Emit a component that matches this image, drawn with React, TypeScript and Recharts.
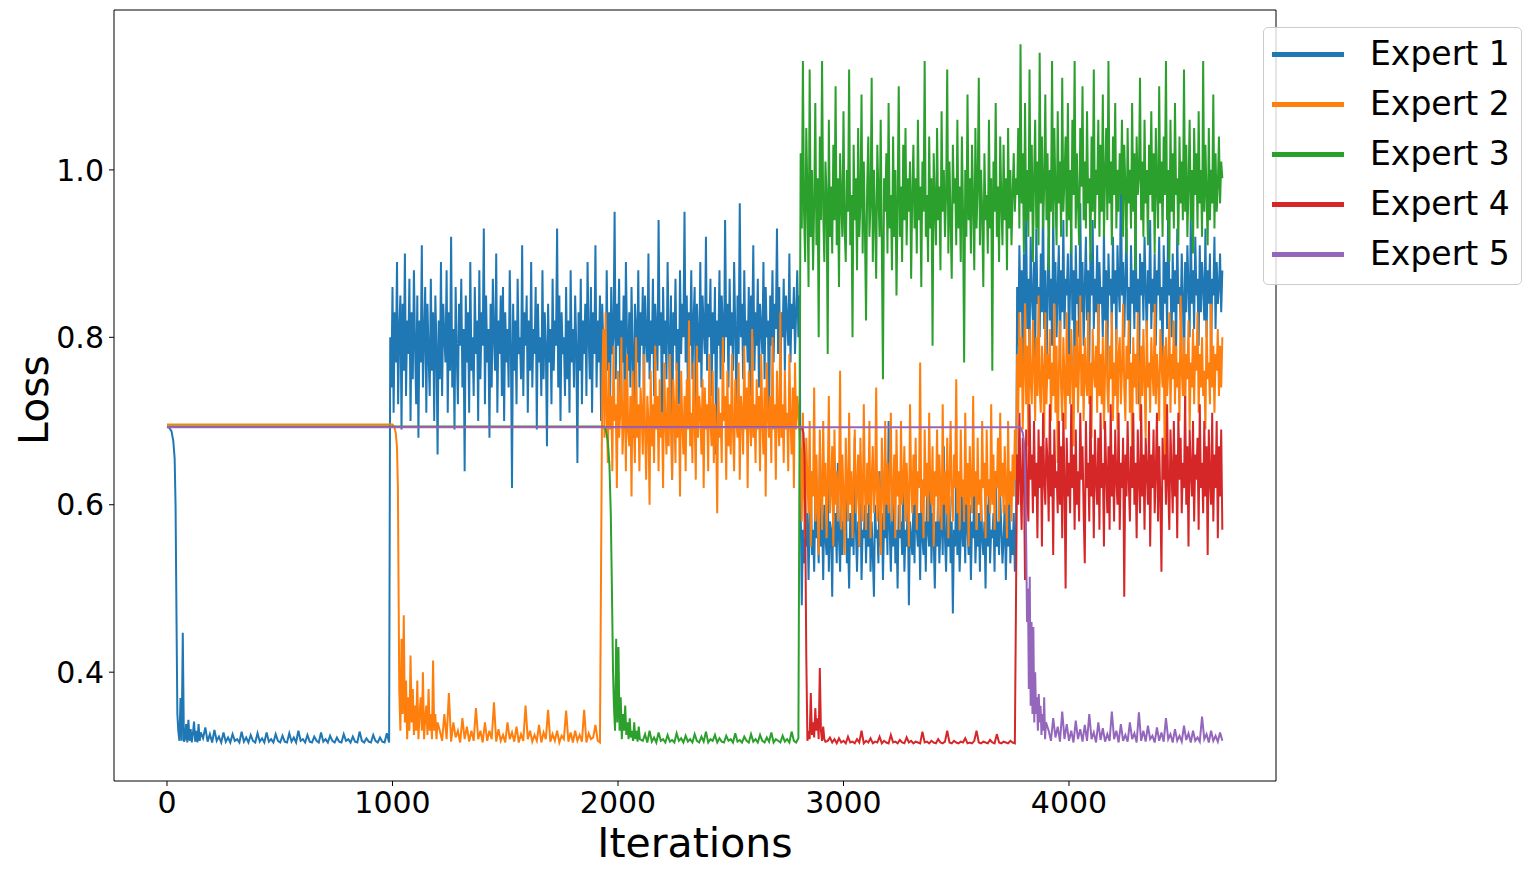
import React from 'react';
import { LineChart, Line, XAxis, YAxis, Legend, ReferenceArea, Label } from 'recharts';

const seriesNames = ['Expert 1', 'Expert 2', 'Expert 3', 'Expert 4', 'Expert 5'];
const seriesColors = ['#1f77b4', '#ff7f0e', '#2ca02c', '#d62728', '#9467bd'];
const xTicks = [0, 1000, 2000, 3000, 4000];
const yTicks = [0.4, 0.6, 0.8, 1.0];
const xDomain = [-235, 4918];
const yDomain = [0.27, 1.191];

// ---------- Expert 1 ----------
const e1Head: [number, number][] = [[0, 0.693], [10, 0.692], [20, 0.688], [28, 0.676], [34, 0.655], [38, 0.6], [42, 0.47], [46, 0.35]];
const e1Early = [0.33, 0.318, 0.369, 0.318, 0.447, 0.317, 0.32, 0.338, 0.316, 0.343, 0.318, 0.332, 0.316, 0.327, 0.341, 0.317, 0.33, 0.316, 0.338, 0.318, 0.328];
const e1Low = [
  0.321, 0.334, 0.317, 0.326, 0.316, 0.331, 0.318, 0.323, 0.316, 0.328, 0.317, 0.322, 0.316, 0.326, 0.318, 0.32, 0.316, 0.329, 0.317, 0.322,
  0.316, 0.325, 0.318, 0.316, 0.327, 0.317, 0.321, 0.316, 0.328, 0.317, 0.32, 0.316, 0.326, 0.318, 0.316, 0.324, 0.317, 0.316, 0.327, 0.317,
  0.322, 0.316, 0.33, 0.318, 0.32, 0.316, 0.325, 0.317, 0.316, 0.323, 0.318, 0.316, 0.328, 0.317, 0.32, 0.316, 0.324, 0.318, 0.316, 0.322,
  0.317, 0.316, 0.326, 0.318, 0.32, 0.316, 0.323, 0.317, 0.316, 0.329, 0.318, 0.316, 0.321, 0.317, 0.316, 0.325, 0.318, 0.316, 0.322, 0.317,
  0.316, 0.327, 0.316,
];
const e1HighA = [
  0.80, 0.74, 0.86, 0.71, 0.83, 0.77, 0.89, 0.72, 0.81, 0.85, 0.69, 0.84, 0.76, 0.90, 0.73, 0.82, 0.78, 0.87, 0.70, 0.83,
  0.75, 0.88, 0.79, 0.72, 0.85, 0.68, 0.82, 0.77, 0.91, 0.74, 0.80, 0.86, 0.71, 0.84, 0.78, 0.73, 0.87, 0.76, 0.83, 0.70,
  0.85, 0.79, 0.66, 0.82, 0.75, 0.89, 0.73, 0.84, 0.80, 0.77, 0.88, 0.71, 0.83, 0.76, 0.92, 0.74, 0.81, 0.69, 0.86, 0.78,
  0.72, 0.84, 0.79, 0.87, 0.74, 0.81, 0.64, 0.85, 0.77, 0.83, 0.71, 0.89, 0.76, 0.80, 0.73, 0.86, 0.78, 0.82, 0.70, 0.88,
  0.75, 0.83, 0.79, 0.93, 0.72, 0.85, 0.77, 0.81, 0.68, 0.84, 0.74, 0.87, 0.80, 0.76, 0.90, 0.71, 0.82, 0.78, 0.85, 0.73,
  0.86, 0.70, 0.83, 0.77, 0.81, 0.74, 0.88, 0.79, 0.62, 0.84, 0.76, 0.82, 0.72, 0.87, 0.78, 0.80, 0.75, 0.91, 0.73, 0.83,
  0.79, 0.85, 0.71, 0.82, 0.76, 0.89, 0.74, 0.81, 0.78, 0.86, 0.69, 0.84, 0.77, 0.80, 0.73, 0.88, 0.75, 0.83, 0.79, 0.67,
  0.84, 0.77, 0.81, 0.72, 0.87, 0.76, 0.82, 0.79, 0.93, 0.74, 0.85, 0.70, 0.83, 0.78, 0.80, 0.73, 0.86, 0.75, 0.82, 0.71,
  0.88, 0.77, 0.81, 0.74, 0.85, 0.79, 0.65, 0.83, 0.76, 0.87, 0.72, 0.82, 0.78, 0.84, 0.73, 0.89, 0.80, 0.75, 0.86, 0.71,
  0.83, 0.78, 0.91, 0.74, 0.82, 0.77, 0.85, 0.70, 0.84, 0.79, 0.81, 0.73, 0.88, 0.76, 0.83, 0.72, 0.86, 0.78, 0.80, 0.95,
  0.75, 0.84, 0.79, 0.87, 0.73, 0.82, 0.77, 0.85, 0.71, 0.89, 0.80, 0.76, 0.83, 0.74, 0.86, 0.78, 0.68, 0.84, 0.81, 0.77,
  0.88, 0.74, 0.83, 0.79, 0.86, 0.72, 0.85, 0.80, 0.77, 0.90, 0.75, 0.82, 0.78, 0.87, 0.73, 0.84, 0.81, 0.76, 0.94, 0.79,
  0.83, 0.71, 0.86, 0.78, 0.82, 0.75, 0.89, 0.80, 0.74, 0.85, 0.63, 0.83, 0.79, 0.87, 0.76, 0.81, 0.72, 0.88, 0.78, 0.84,
  0.80, 0.95, 0.77, 0.85, 0.73, 0.83, 0.79, 0.88, 0.75, 0.82, 0.86, 0.71, 0.84, 0.80, 0.77, 0.89, 0.74, 0.85, 0.81, 0.78,
  0.92, 0.76, 0.84, 0.80, 0.87, 0.73, 0.83, 0.78, 0.86, 0.66, 0.82, 0.79, 0.88, 0.75, 0.85, 0.81, 0.77, 0.94, 0.80, 0.84,
  0.74, 0.87, 0.79, 0.83, 0.76, 0.89, 0.81, 0.72, 0.85, 0.78, 0.96, 0.80, 0.84, 0.75, 0.88, 0.79, 0.82, 0.77, 0.86, 0.73,
  0.85, 0.80, 0.91, 0.76, 0.83, 0.79, 0.87, 0.74, 0.84, 0.81, 0.78, 0.89, 0.75, 0.86, 0.80, 0.82, 0.69, 0.85, 0.79, 0.88,
  0.77, 0.84, 0.81, 0.93, 0.78, 0.86, 0.74, 0.83, 0.80, 0.87, 0.76, 0.85, 0.82, 0.79, 0.90, 0.77, 0.84, 0.81, 0.86, 0.78,
  0.83, 0.88, 0.80, 0.85,
];
const e1HighB = [
  0.60, 0.48, 0.57, 0.53, 0.62, 0.55, 0.59, 0.51, 0.58, 0.64, 0.54, 0.57, 0.52, 0.61, 0.56, 0.58, 0.53, 0.66, 0.55, 0.59,
  0.51, 0.60, 0.56, 0.54, 0.63, 0.52, 0.58, 0.57, 0.49, 0.61, 0.55, 0.59, 0.53, 0.65, 0.56, 0.52, 0.60, 0.54, 0.58, 0.57,
  0.62, 0.53, 0.56, 0.50, 0.59, 0.55, 0.61, 0.54, 0.68, 0.57, 0.52, 0.58, 0.55, 0.62, 0.51, 0.57, 0.56, 0.60, 0.53, 0.59,
  0.55, 0.63, 0.52, 0.58, 0.54, 0.49, 0.60, 0.56, 0.57, 0.53, 0.64, 0.55, 0.59, 0.51, 0.58, 0.56, 0.61, 0.54, 0.70, 0.57,
  0.52, 0.59, 0.55, 0.62, 0.53, 0.57, 0.50, 0.60, 0.56, 0.58, 0.54, 0.63, 0.52, 0.57, 0.55, 0.61, 0.48, 0.58, 0.56, 0.54,
  0.60, 0.53, 0.66, 0.57, 0.55, 0.59, 0.51, 0.62, 0.56, 0.54, 0.58, 0.52, 0.61, 0.57, 0.55, 0.64, 0.53, 0.59, 0.56, 0.50,
  0.58, 0.55, 0.62, 0.53, 0.57, 0.60, 0.54, 0.67, 0.56, 0.52, 0.59, 0.55, 0.61, 0.53, 0.58, 0.47, 0.57, 0.55, 0.63, 0.54,
  0.59, 0.52, 0.56, 0.61, 0.55, 0.58, 0.53, 0.65, 0.57, 0.54, 0.60, 0.51, 0.58, 0.56, 0.62, 0.53, 0.57, 0.55, 0.59, 0.52,
  0.61, 0.56, 0.54, 0.58, 0.50, 0.60, 0.55, 0.63, 0.53, 0.57, 0.56, 0.59, 0.52, 0.64, 0.55, 0.58, 0.54, 0.61, 0.57, 0.53,
  0.56, 0.60, 0.51, 0.58, 0.55, 0.62, 0.53, 0.57, 0.54, 0.59, 0.52, 0.56,
];
const e1HighC = [
  0.86, 0.79, 0.91, 0.83, 0.88, 0.76, 0.90, 0.84, 0.94, 0.81, 0.87, 0.78, 0.92, 0.85, 0.82, 0.89, 0.77, 0.93, 0.84, 0.86,
  0.80, 0.90, 0.83, 0.97, 0.81, 0.88, 0.74, 0.86, 0.92, 0.82, 0.87, 0.79, 0.95, 0.84, 0.89, 0.80, 0.86, 0.91, 0.77, 0.88,
  0.83, 0.94, 0.81, 0.87, 0.85, 0.90, 0.78, 0.86, 0.93, 0.82, 0.88, 0.75, 0.91, 0.84, 0.87, 0.80, 0.96, 0.83, 0.89, 0.79,
  0.86, 0.92, 0.82, 0.88, 0.77, 0.90, 0.85, 0.94, 0.81, 0.87, 0.83, 0.91, 0.78, 0.89, 0.84, 0.86, 0.80, 0.93, 0.82, 0.88,
  0.76, 0.90, 0.85, 0.87, 0.81, 0.92, 0.84, 0.88, 0.79, 0.91, 0.86, 0.83, 1.00, 0.85, 0.89, 0.80, 0.87, 0.93, 0.82, 0.86,
  0.78, 0.91, 0.84, 0.88, 0.81, 0.95, 0.83, 0.87, 0.72, 0.90, 0.85, 0.89, 0.82, 0.92, 0.86, 0.80, 0.88, 0.84, 0.94, 0.81,
  0.87, 0.83, 0.90, 0.79, 0.88, 0.85, 0.92, 0.82, 0.86, 0.77, 0.91, 0.84, 0.89, 0.81, 0.96, 0.85, 0.87, 0.80, 0.90, 0.83,
  0.88, 0.78, 0.93, 0.84, 0.86, 0.82, 0.90, 0.85, 0.75, 0.89, 0.83, 0.91, 0.86, 0.80, 0.94, 0.84, 0.88, 0.81, 0.92, 0.85,
  0.87, 0.79, 0.91, 0.83, 0.89, 0.86, 0.82, 0.93, 0.80, 0.88, 0.84, 0.90, 0.77, 0.87, 0.85, 0.92, 0.81, 0.89, 0.84, 0.86,
  0.90, 0.83, 0.88,
];

// ---------- Expert 2 ----------
const e2Head: [number, number][] = [[0, 0.696], [1000, 0.696], [1008, 0.693], [1015, 0.685], [1020, 0.668], [1024, 0.62], [1027, 0.5], [1030, 0.38]];
const e2Early = [0.33, 0.44, 0.35, 0.468, 0.34, 0.39, 0.32, 0.37, 0.33, 0.42, 0.34, 0.38, 0.325, 0.36, 0.33, 0.39, 0.32, 0.35, 0.37, 0.33, 0.40, 0.32, 0.345, 0.36, 0.325, 0.38, 0.33, 0.35, 0.32, 0.414, 0.33, 0.35, 0.32, 0.34];
const e2Low = [
  0.33, 0.318, 0.35, 0.32, 0.375, 0.317, 0.34, 0.322, 0.33, 0.316, 0.345, 0.32, 0.335, 0.317, 0.33, 0.318, 0.357, 0.32, 0.33, 0.316,
  0.34, 0.318, 0.33, 0.32, 0.364, 0.317, 0.332, 0.318, 0.325, 0.316, 0.34, 0.32, 0.328, 0.317, 0.335, 0.316, 0.326, 0.318, 0.36, 0.32,
  0.33, 0.317, 0.325, 0.318, 0.337, 0.316, 0.328, 0.32, 0.355, 0.317, 0.326, 0.318, 0.33, 0.316, 0.324, 0.32, 0.354, 0.317, 0.328, 0.316,
  0.33, 0.318, 0.325, 0.317, 0.355, 0.316, 0.327, 0.32, 0.322, 0.337, 0.318, 0.316,
];
const e2HighA = [
  0.74, 0.81, 0.68, 0.83, 0.71, 0.65, 0.77, 0.69, 0.73, 0.64, 0.79, 0.70, 0.72, 0.62, 0.76, 0.68, 0.71, 0.80, 0.66, 0.70,
  0.75, 0.64, 0.78, 0.69, 0.67, 0.73, 0.61, 0.76, 0.70, 0.65, 0.80, 0.68, 0.72, 0.64, 0.74, 0.71, 0.66, 0.78, 0.69, 0.63,
  0.73, 0.70, 0.60, 0.76, 0.67, 0.72, 0.65, 0.79, 0.69, 0.73, 0.64, 0.75, 0.68, 0.71, 0.62, 0.77, 0.70, 0.66, 0.74, 0.67,
  0.78, 0.69, 0.63, 0.75, 0.71, 0.65, 0.77, 0.68, 0.72, 0.61, 0.76, 0.70, 0.66, 0.73, 0.64, 0.75, 0.69, 0.82, 0.67, 0.71,
  0.65, 0.77, 0.70, 0.63, 0.79, 0.68, 0.73, 0.71, 0.66, 0.75, 0.62, 0.74, 0.69, 0.72, 0.64, 0.78, 0.70, 0.67, 0.76, 0.65,
  0.72, 0.69, 0.59, 0.74, 0.68, 0.71, 0.65, 0.80, 0.70, 0.73, 0.63, 0.76, 0.67, 0.72, 0.66, 0.78, 0.69, 0.64, 0.75, 0.70,
  0.68, 0.77, 0.63, 0.73, 0.71, 0.66, 0.79, 0.69, 0.74, 0.62, 0.76, 0.70, 0.67, 0.81, 0.68, 0.72, 0.65, 0.75, 0.69, 0.73,
  0.64, 0.78, 0.70, 0.66, 0.74, 0.61, 0.77, 0.71, 0.68, 0.73, 0.65, 0.80, 0.69, 0.72, 0.63, 0.76, 0.70, 0.67, 0.83, 0.68,
  0.72, 0.65, 0.76, 0.69, 0.71, 0.64, 0.78, 0.70, 0.66, 0.74, 0.62, 0.77, 0.69, 0.73, 0.71,
];
const e2HighB = [
  0.66, 0.58, 0.71, 0.61, 0.56, 0.68, 0.63, 0.59, 0.70, 0.55, 0.64, 0.61, 0.74, 0.58, 0.66, 0.60, 0.54, 0.69, 0.62, 0.57,
  0.70, 0.61, 0.65, 0.56, 0.63, 0.73, 0.59, 0.62, 0.67, 0.55, 0.69, 0.60, 0.64, 0.58, 0.62, 0.76, 0.57, 0.66, 0.61, 0.54,
  0.68, 0.62, 0.58, 0.71, 0.60, 0.64, 0.56, 0.63, 0.69, 0.59, 0.62, 0.66, 0.55, 0.68, 0.61, 0.58, 0.72, 0.62, 0.57, 0.65,
  0.60, 0.70, 0.56, 0.63, 0.67, 0.59, 0.62, 0.74, 0.58, 0.64, 0.61, 0.54, 0.68, 0.62, 0.57, 0.70, 0.60, 0.65, 0.59, 0.63,
  0.71, 0.58, 0.61, 0.66, 0.56, 0.69, 0.61, 0.64, 0.57, 0.70, 0.60, 0.62, 0.67, 0.58, 0.65, 0.61, 0.55, 0.72, 0.63, 0.59,
  0.66, 0.60, 0.68, 0.57, 0.64, 0.62, 0.77, 0.59, 0.63, 0.56, 0.69, 0.61, 0.65, 0.58, 0.71, 0.62, 0.60, 0.67, 0.55, 0.64,
  0.61, 0.69, 0.58, 0.66, 0.62, 0.57, 0.72, 0.60, 0.64, 0.59, 0.68, 0.56, 0.63, 0.70, 0.61, 0.58, 0.66, 0.62, 0.75, 0.59,
  0.64, 0.57, 0.69, 0.61, 0.63, 0.58, 0.71, 0.60, 0.65, 0.55, 0.67, 0.62, 0.59, 0.73, 0.61, 0.64, 0.57, 0.68, 0.60, 0.63,
  0.58, 0.70, 0.62, 0.65, 0.56, 0.69, 0.61, 0.63, 0.59, 0.72, 0.60, 0.66, 0.57, 0.64, 0.62, 0.68, 0.58, 0.71, 0.61, 0.65,
  0.59, 0.67, 0.62, 0.56, 0.70, 0.60, 0.64, 0.58, 0.66, 0.61, 0.69, 0.63,
];
const e2HighC = [
  0.78, 0.71, 0.83, 0.74, 0.80, 0.69, 0.76, 0.84, 0.72, 0.79, 0.67, 0.81, 0.75, 0.72, 0.82, 0.77, 0.70, 0.80, 0.73, 0.85,
  0.74, 0.71, 0.79, 0.76, 0.68, 0.83, 0.72, 0.78, 0.75, 0.81, 0.70, 0.77, 0.73, 0.84, 0.71, 0.79, 0.65, 0.76, 0.82, 0.74,
  0.70, 0.80, 0.75, 0.69, 0.83, 0.73, 0.78, 0.72, 0.81, 0.76, 0.67, 0.79, 0.74, 0.82, 0.71, 0.77, 0.85, 0.73, 0.78, 0.70,
  0.80, 0.75, 0.73, 0.83, 0.72, 0.77, 0.68, 0.81, 0.76, 0.74, 0.79, 0.71, 0.84, 0.73, 0.78, 0.72, 0.80, 0.69, 0.76, 0.82,
  0.74, 0.71, 0.79, 0.75, 0.83, 0.70, 0.77, 0.73, 0.81, 0.69, 0.78, 0.80, 0.72, 0.76, 0.84, 0.74, 0.70, 0.79, 0.75, 0.82,
  0.71, 0.77, 0.66, 0.80, 0.74, 0.78, 0.72, 0.83, 0.76, 0.70, 0.79, 0.73, 0.81, 0.75, 0.68, 0.82, 0.74, 0.77, 0.71, 0.80,
  0.76, 0.73, 0.84, 0.72, 0.78, 0.75, 0.70, 0.81, 0.77, 0.74, 0.79, 0.64, 0.80, 0.73, 0.76, 0.83, 0.71, 0.78, 0.75, 0.82,
  0.72, 0.79, 0.74, 0.77, 0.70, 0.85, 0.76, 0.73, 0.80, 0.71, 0.78, 0.75, 0.82, 0.69, 0.77, 0.74, 0.81, 0.72, 0.79, 0.76,
  0.83, 0.71, 0.78, 0.74, 0.80, 0.73, 0.76, 0.69, 0.82, 0.75, 0.77, 0.72, 0.84, 0.74, 0.79, 0.71, 0.78, 0.76, 0.81, 0.73,
  0.79, 0.74, 0.80,
];

// ---------- Expert 3 ----------
const e3Head: [number, number][] = [[0, 0.6935], [1935, 0.6935], [1945, 0.69], [1955, 0.676], [1962, 0.648], [1968, 0.59], [1973, 0.5], [1978, 0.4]];
const e3Early = [0.36, 0.33, 0.44, 0.34, 0.43, 0.33, 0.37, 0.32, 0.35, 0.33, 0.36, 0.325, 0.34, 0.32, 0.345, 0.322, 0.33, 0.318, 0.34, 0.32, 0.33, 0.317, 0.335, 0.32];
const e3Low = [
  0.318, 0.326, 0.316, 0.33, 0.317, 0.322, 0.316, 0.328, 0.318, 0.32, 0.316, 0.325, 0.317, 0.319, 0.316, 0.327, 0.318, 0.321, 0.316, 0.324,
  0.317, 0.32, 0.316, 0.326, 0.318, 0.316, 0.323, 0.317, 0.329, 0.316, 0.32, 0.318, 0.325, 0.316, 0.321, 0.317, 0.316, 0.324, 0.318, 0.32,
  0.316, 0.327, 0.317, 0.319, 0.316, 0.323, 0.318, 0.316, 0.326, 0.317, 0.32, 0.316, 0.325, 0.318, 0.316, 0.322, 0.317, 0.328, 0.316, 0.32,
  0.318, 0.316, 0.324, 0.317, 0.32, 0.316, 0.329, 0.318, 0.316, 0.321,
];
const e3High = [
  1.02, 0.93, 1.13, 0.95, 0.89, 1.05, 0.97, 0.86, 1.12, 0.92, 1.00, 0.88, 0.96, 1.08, 0.91, 0.99, 0.80, 1.04, 0.94, 1.13,
  0.95, 0.89, 1.01, 0.97, 0.78, 1.06, 0.92, 0.98, 0.90, 1.03, 0.94, 1.10, 0.91, 0.99, 0.86, 1.02, 0.96, 0.92, 1.07, 0.93,
  0.89, 1.00, 0.95, 1.12, 0.91, 0.97, 0.80, 1.03, 0.94, 0.99, 0.88, 1.05, 0.92, 0.96, 1.09, 0.90, 1.01, 0.93, 0.82, 0.98,
  1.04, 0.92, 0.96, 1.11, 0.89, 1.00, 0.94, 0.87, 1.03, 0.97, 0.92, 1.06, 0.91, 0.75, 0.99, 0.95, 1.02, 0.90, 1.08, 0.93,
  0.97, 0.88, 1.04, 0.92, 1.00, 0.85, 0.96, 1.10, 0.92, 0.98, 0.89, 1.03, 0.94, 1.05, 0.91, 0.99, 0.95, 1.01, 0.87, 0.97,
  1.03, 0.93, 0.99, 0.90, 1.06, 0.94, 0.98, 0.86, 1.01, 0.95, 1.13, 0.92, 0.97, 0.89, 1.04, 0.93, 0.99, 0.79, 1.02, 0.96,
  0.91, 1.05, 0.94, 0.98, 0.88, 1.07, 0.95, 1.00, 0.92, 0.97, 1.12, 0.90, 1.01, 0.94, 0.87, 1.03, 0.96, 0.99, 0.91, 1.06,
  0.93, 0.98, 0.89, 1.04, 0.95, 0.77, 1.00, 0.92, 1.09, 0.94, 0.99, 0.90, 1.03, 0.96, 0.88, 1.05, 0.93, 0.98, 1.11, 0.91,
  1.00, 0.95, 0.86, 1.02, 0.94, 0.97, 0.90, 1.06, 0.93, 0.99, 0.76, 1.01, 0.95, 1.08, 0.92, 0.98, 0.89, 1.04, 0.96, 0.91,
  1.03, 0.94, 0.99, 0.88, 1.05, 0.93, 1.00, 0.91, 0.97, 1.02, 0.95, 0.99,
  0.97, 1.05, 0.93, 1.15, 0.96, 1.02, 0.90, 1.08, 0.94, 1.00, 0.92, 1.12, 0.95, 1.03, 0.89, 0.99, 1.06, 0.93, 1.01, 0.91,
  1.14, 0.96, 1.04, 0.93, 0.98, 1.09, 0.94, 1.02, 0.88, 1.00, 0.95, 1.13, 0.93, 1.05, 0.97, 0.91, 1.07, 0.96, 1.01, 0.92,
  1.11, 0.95, 0.99, 1.04, 0.92, 1.08, 0.94, 1.00, 0.90, 1.06, 0.97, 1.13, 0.93, 1.02, 0.96, 0.91, 1.05, 0.98, 1.10, 0.94,
  1.01, 0.93, 1.07, 0.96, 0.99, 0.89, 1.04, 0.95, 1.12, 0.93, 1.00, 0.97, 1.06, 0.92, 1.03, 0.95, 1.09, 0.92, 0.99, 1.05,
  0.94, 1.13, 0.96, 1.01, 0.91, 1.04, 0.97, 1.08, 0.93, 1.00, 0.95, 1.02, 0.97, 1.06, 0.92, 1.03, 0.98, 0.90, 1.05, 0.96,
  1.00, 0.93, 1.08, 0.95, 1.02, 0.88, 1.04, 0.97, 0.99, 1.11, 0.94, 1.01, 0.92, 1.06, 0.96, 1.00, 0.91, 1.03, 0.97, 1.07,
  0.95, 1.02, 0.90, 1.05, 0.98, 0.93, 1.10, 0.96, 1.01, 0.92, 1.04, 0.97, 1.13, 0.94, 1.00, 0.89, 1.06, 0.95, 1.02, 0.93,
  1.08, 0.97, 0.99, 0.91, 1.04, 0.96, 1.01, 0.94, 1.12, 0.95, 1.03, 0.92, 0.98, 1.06, 0.94, 1.00, 0.90, 1.05, 0.97, 1.02,
  0.93, 1.07, 0.96, 1.00, 0.92, 1.13, 0.95, 1.03, 0.97, 0.91, 1.05, 0.94, 1.00, 0.96, 1.09, 0.93, 1.02, 0.95, 0.98, 1.04,
  0.96, 1.01, 0.99,
];

// ---------- Expert 4 ----------
const e4Head: [number, number][] = [[0, 0.693], [2815, 0.693], [2822, 0.686], [2827, 0.66], [2831, 0.56], [2835, 0.42]];
const e4Early = [0.318, 0.33, 0.32, 0.375, 0.325, 0.34, 0.322, 0.357, 0.33, 0.345, 0.32, 0.405, 0.33, 0.318, 0.335, 0.32, 0.317];
const e4Low = [
  0.318, 0.322, 0.316, 0.32, 0.315, 0.321, 0.316, 0.318, 0.315, 0.323, 0.316, 0.317, 0.315, 0.32, 0.316, 0.33, 0.315, 0.318, 0.316, 0.321,
  0.315, 0.317, 0.316, 0.323, 0.315, 0.318, 0.316, 0.315, 0.325, 0.316, 0.317, 0.315, 0.319, 0.316, 0.315, 0.322, 0.316, 0.318, 0.315, 0.317,
  0.316, 0.315, 0.329, 0.316, 0.317, 0.315, 0.318, 0.316, 0.315, 0.32, 0.316, 0.315, 0.317, 0.33, 0.316, 0.315, 0.318, 0.316, 0.315, 0.317,
  0.316, 0.321, 0.315, 0.316, 0.315, 0.318, 0.33, 0.316, 0.315, 0.317, 0.316, 0.315, 0.319, 0.316, 0.315, 0.326, 0.316, 0.315, 0.317, 0.316,
  0.315, 0.318, 0.316, 0.315,
];
const e4High = [
  0.66, 0.60, 0.71, 0.63, 0.57, 0.68, 0.64, 0.51, 0.69, 0.61, 0.58, 0.72, 0.63, 0.66, 0.59, 0.70, 0.61, 0.65, 0.56, 0.69,
  0.62, 0.67, 0.55, 0.71, 0.63, 0.60, 0.68, 0.65, 0.58, 0.72, 0.61, 0.66, 0.54, 0.69, 0.62, 0.64, 0.59, 0.70, 0.60, 0.67,
  0.56, 0.71, 0.63, 0.50, 0.68, 0.61, 0.65, 0.59, 0.72, 0.62, 0.66, 0.57, 0.69, 0.60, 0.64, 0.58, 0.71, 0.63, 0.67, 0.59,
  0.53, 0.70, 0.62, 0.65, 0.58, 0.73, 0.61, 0.66, 0.56, 0.69, 0.63, 0.60, 0.68, 0.57, 0.71, 0.62, 0.65, 0.55, 0.70, 0.64,
  0.59, 0.67, 0.57, 0.72, 0.61, 0.66, 0.58, 0.69, 0.63, 0.60, 0.71, 0.57, 0.65, 0.62, 0.68, 0.49, 0.66, 0.61, 0.70, 0.63,
  0.58, 0.67, 0.62, 0.71, 0.60, 0.65, 0.56, 0.69, 0.63, 0.59, 0.72, 0.61, 0.66, 0.57, 0.68, 0.64, 0.60, 0.70, 0.55, 0.66,
  0.62, 0.69, 0.59, 0.64, 0.71, 0.58, 0.67, 0.61, 0.52, 0.68, 0.63, 0.66, 0.60, 0.72, 0.62, 0.57, 0.69, 0.64, 0.59, 0.70,
  0.61, 0.66, 0.56, 0.71, 0.63, 0.68, 0.59, 0.65, 0.62, 0.73, 0.60, 0.67, 0.55, 0.69, 0.64, 0.61, 0.70, 0.58, 0.66, 0.63,
  0.68, 0.57, 0.72, 0.62, 0.65, 0.59, 0.70, 0.61, 0.67, 0.54, 0.69, 0.63, 0.60, 0.71, 0.58, 0.66, 0.62, 0.70, 0.56, 0.67,
  0.61, 0.69, 0.57,
];

// ---------- Expert 5 ----------
const e5Head: [number, number][] = [[0, 0.6925], [3785, 0.6925], [3795, 0.686], [3800, 0.676], [3805, 0.645], [3810, 0.56], [3814, 0.46]];
const e5Early = [0.5, 0.38, 0.514, 0.36, 0.46, 0.35, 0.454, 0.34, 0.4, 0.35, 0.37, 0.33, 0.374, 0.34, 0.36, 0.325, 0.35, 0.33, 0.37, 0.32, 0.34];
const e5Low = [
  0.33, 0.318, 0.345, 0.322, 0.335, 0.317, 0.353, 0.32, 0.338, 0.318, 0.33, 0.316, 0.342, 0.32, 0.332, 0.317, 0.337, 0.318, 0.35, 0.32,
  0.328, 0.316, 0.34, 0.319, 0.333, 0.317, 0.326, 0.318, 0.353, 0.32, 0.33, 0.316, 0.338, 0.318, 0.325, 0.317, 0.34, 0.32, 0.327, 0.316,
  0.352, 0.318, 0.33, 0.317, 0.336, 0.32, 0.324, 0.316, 0.334, 0.318, 0.328, 0.317, 0.345, 0.32, 0.326, 0.316, 0.332, 0.318, 0.324, 0.317,
  0.336, 0.319, 0.327, 0.316, 0.33, 0.318, 0.322, 0.317, 0.347, 0.32, 0.326, 0.316, 0.33, 0.318, 0.324, 0.317, 0.328, 0.318,
];

type Pt = { x: number; y: number };
function pts(p: [number, number][]): Pt[] {
  return p.map(([x, y]) => ({ x, y }));
}
// place the listed readings on an even x grid over [x0, x1]
function seg(x0: number, x1: number, ys: number[]): Pt[] {
  const n = ys.length;
  return ys.map((y, i) => ({ x: n === 1 ? x0 : x0 + ((x1 - x0) * i) / (n - 1), y }));
}

const series: Pt[][] = [
  [...pts(e1Head), ...seg(50, 150, e1Early), ...seg(160, 985, e1Low), ...seg(990, 2805, e1HighA), ...seg(2810, 3765, e1HighB), ...seg(3770, 4680, e1HighC)],
  [...pts(e2Head), ...seg(1035, 1200, e2Early), ...seg(1210, 1920, e2Low), ...seg(1930, 2800, e2HighA), ...seg(2810, 3765, e2HighB), ...seg(3770, 4680, e2HighC)],
  [...pts(e3Head), ...seg(1982, 2097, e3Early), ...seg(2110, 2800, e3Low), ...seg(2810, 4680, e3High)],
  [...pts(e4Head), ...seg(2840, 2920, e4Early), ...seg(2930, 3760, e4Low), ...seg(3770, 4680, e4High)],
  [...pts(e5Head), ...seg(3818, 3898, e5Early), ...seg(3910, 4680, e5Low)],
];

const FONT = 'DejaVu Sans';

const renderLegend = () => (
  <div
    style={{
      boxSizing: 'border-box',
      width: 259,
      height: 258,
      border: '1px solid #cccccc',
      borderRadius: 5,
      background: 'rgba(255,255,255,0.8)',
      position: 'relative',
      fontFamily: FONT,
    }}
  >
    {seriesNames.map((n, i) => (
      <div key={n} style={{ position: 'absolute', left: 0, top: 1 + i * 50, height: 50, width: '100%' }}>
        <div style={{ position: 'absolute', left: 8, top: 22.5, width: 72, height: 5, background: seriesColors[i] }} />
        <span style={{ position: 'absolute', left: 106, top: 0, lineHeight: '50px', fontSize: 33, color: '#000', whiteSpace: 'nowrap' }}>{n}</span>
      </div>
    ))}
  </div>
);

export default function App() {
  return (
    <div style={{ position: 'absolute', left: 0, top: 0, width: 1533, height: 874, background: '#fff', fontFamily: FONT }}>
      <LineChart width={1533} height={874} margin={{ top: 10, right: 257, bottom: 0, left: 0 }}>
        <XAxis
          type="number"
          dataKey="x"
          domain={xDomain}
          allowDataOverflow
          ticks={xTicks}
          height={93}
          tickSize={5}
          tickMargin={6}
          axisLine={false}
          tickLine={{ stroke: '#000', strokeWidth: 1 }}
          tick={{ fill: '#000', fontSize: 30, fontFamily: FONT }}
        >
          <Label
            content={() => (
              <text x={695} y={857} textAnchor="middle" fontSize={41} fontFamily={FONT} fill="#000">
                Iterations
              </text>
            )}
          />
        </XAxis>
        <YAxis
          type="number"
          domain={yDomain}
          allowDataOverflow
          ticks={yTicks}
          width={114}
          tickSize={5}
          tickMargin={5}
          axisLine={false}
          tickLine={{ stroke: '#000', strokeWidth: 1 }}
          tick={{ fill: '#000', fontSize: 30, fontFamily: FONT }}
          tickFormatter={(v: number) => v.toFixed(1)}
        >
          <Label
            content={() => (
              <text x={48} y={400} transform="rotate(-90 48 400)" textAnchor="middle" fontSize={41} fontFamily={FONT} fill="#000">
                Loss
              </text>
            )}
          />
        </YAxis>
        {series.map((d, i) => (
          <Line
            key={seriesNames[i]}
            data={d}
            dataKey="y"
            name={seriesNames[i]}
            type="linear"
            stroke={seriesColors[i]}
            strokeWidth={2}
            dot={false}
            activeDot={false}
            isAnimationActive={false}
          />
        ))}
        <ReferenceArea
          x1={xDomain[0]}
          x2={xDomain[1]}
          y1={yDomain[0]}
          y2={yDomain[1]}
          fill="none"
          fillOpacity={0}
          stroke="#000"
          strokeWidth={1}
          ifOverflow="visible"
        />
        <Legend
          layout="horizontal"
          verticalAlign="middle"
          align="center"
          content={renderLegend}
          wrapperStyle={{ left: 1263, top: 27, width: 259, height: 258 }}
        />
      </LineChart>
    </div>
  );
}
